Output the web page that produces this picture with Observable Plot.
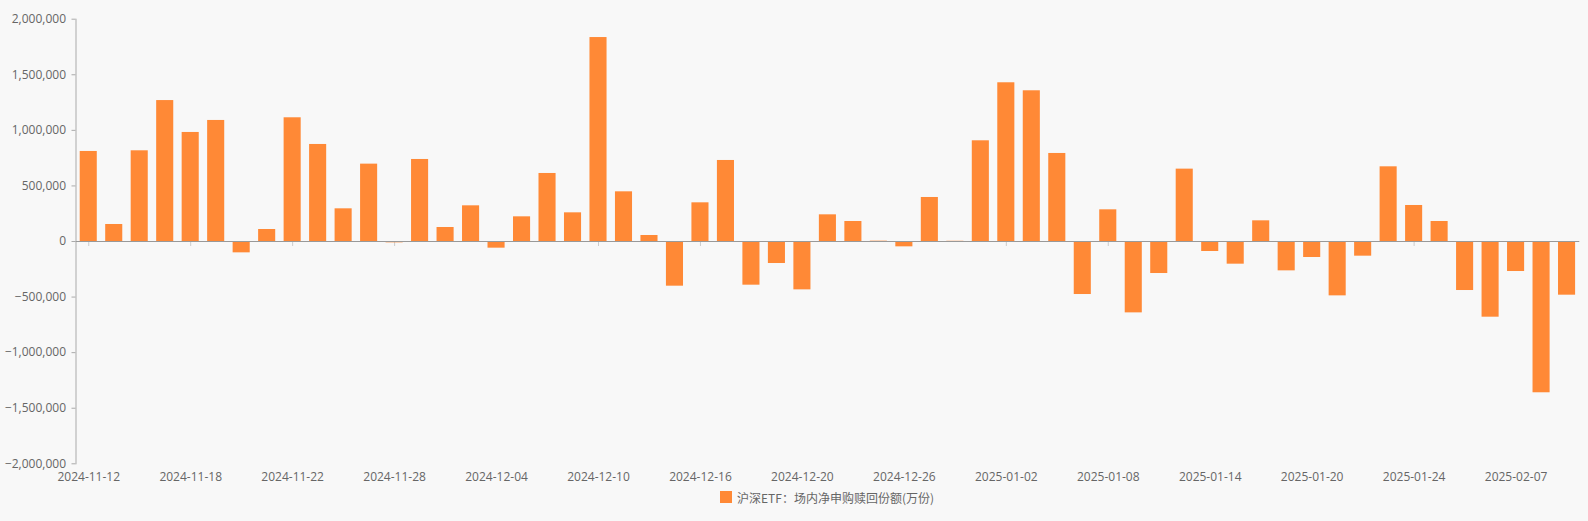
<!DOCTYPE html>
<html>
<head>
<meta charset="utf-8">
<script src="https://cdn.jsdelivr.net/npm/d3@7"></script>
<script src="https://cdn.jsdelivr.net/npm/@observablehq/plot@0.6"></script>
<style>
  html, body { margin: 0; padding: 0; background: #f8f8f8; }
  #chart svg { display: block; }
  #legend {
    display: flex; justify-content: center; align-items: center;
    margin-left: 75px; margin-right: 9px; height: 36px;
    font-family: "Noto Sans CJK SC", "Noto Sans", sans-serif; font-size: 12px; color: #666;
    position: relative; top: -6px;
  }
  #legend .sw { width: 12px; height: 12px; background: #ff8936; margin-right: 5px; }
</style>
</head>
<body>
<div id="chart"></div>
<div id="legend"><span class="sw"></span><span id="legend-text"></span></div>
<script>
const seriesName = "沪深ETF：场内净申购赎回份额(万份)";
const dates = [
  "2024-11-12","2024-11-13","2024-11-14","2024-11-15","2024-11-18","2024-11-19","2024-11-20","2024-11-21",
  "2024-11-22","2024-11-25","2024-11-26","2024-11-27","2024-11-28","2024-11-29","2024-12-02","2024-12-03",
  "2024-12-04","2024-12-05","2024-12-06","2024-12-09","2024-12-10","2024-12-11","2024-12-12","2024-12-13",
  "2024-12-16","2024-12-17","2024-12-18","2024-12-19","2024-12-20","2024-12-23","2024-12-24","2024-12-25",
  "2024-12-26","2024-12-27","2024-12-30","2024-12-31","2025-01-02","2025-01-03","2025-01-06","2025-01-07",
  "2025-01-08","2025-01-09","2025-01-10","2025-01-13","2025-01-14","2025-01-15","2025-01-16","2025-01-17",
  "2025-01-20","2025-01-21","2025-01-22","2025-01-23","2025-01-24","2025-01-27","2025-02-05","2025-02-06",
  "2025-02-07","2025-02-10","2025-02-11"
];
const values = [
  810000, 153000, 816000, 1268000, 981000, 1089000, -102000, 108000,
  1113000, 873000, 294000, 696000, -12000, 738000, 126000, 321000,
  -60000, 222000, 612000, 258000, 1835000, 447000, 54000, -402000,
  348000, 729000, -393000, -198000, -435000, 240000, 180000, 3000,
  -48000, 396000, 2000, 906000, 1428000, 1356000, 792000, -477000,
  285000, -642000, -288000, 651000, -90000, -204000, 186000, -264000,
  -144000, -489000, -132000, 672000, 324000, 180000, -441000, -681000,
  -270000, -1361000, -483000
];
const labelDates = dates.filter((d, i) => i % 4 === 0);
const yTicks = [-2000000, -1500000, -1000000, -500000, 0, 500000, 1000000, 1500000, 2000000];

const data = dates.map((d, i) => ({date: d, value: values[i]}));
const barColor = "#ff8936";

const chart = Plot.plot({
  width: 1588,
  height: 485,
  marginLeft: 75.5,
  marginRight: 8.7,
  marginTop: 18.7,
  marginBottom: 21.7,
  style: {background: "transparent", fontFamily: "'Open Sans', 'Noto Sans', sans-serif", fontSize: "12px", color: "#666"},
  x: {type: "band", domain: dates, paddingInner: 0.33, paddingOuter: 0.165, round: false},
  y: {domain: [-2000000, 2000000]},
  marks: [
    Plot.ruleX(labelDates, {x: d => d, y1: 0, y2: 0, insetBottom: -5, stroke: "#ccc"}),
    Plot.barY(data, {x: "date", y: "value", fill: barColor}),
    Plot.frame({anchor: "left", stroke: "#aaa"}),
    Plot.ruleY([0], {stroke: "#999"}),
    Plot.axisY({ticks: yTicks, tickFormat: d3.format(","), tickSize: 4, tickPadding: 6, stroke: "#aaa", label: null}),
    Plot.axisX({ticks: labelDates, tickSize: 0, tickPadding: 9, label: null})
  ]
});
document.getElementById("chart").appendChild(chart);
document.getElementById("legend-text").textContent = seriesName;
</script>
</body>
</html>
